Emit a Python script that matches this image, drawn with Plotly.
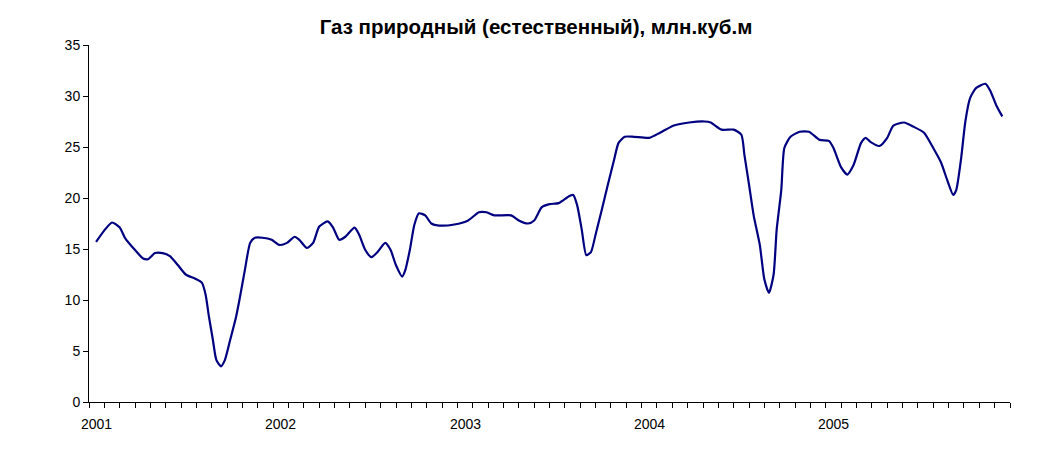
import plotly.graph_objects as go

# position in months from Jan 2001 (0 = start of Jan 2001), and value in mln cub.m
months = [0.46, 1.04, 1.5, 2.0, 2.34, 3.0, 3.5, 3.84, 4.3, 4.8, 5.27, 5.8, 6.3, 6.9, 7.35, 7.6, 7.8, 8.07, 8.3, 8.6,
          8.85, 9.2, 9.56, 9.8, 10.15, 10.5, 10.8, 11.3, 11.9, 12.4, 12.9, 13.4, 13.7, 14.2, 14.6, 15.0, 15.55, 15.9, 16.3, 16.7,
          17.3, 17.6, 18.0, 18.4, 18.8, 19.3, 19.65, 20.0, 20.4, 20.6, 20.9, 21.2, 21.5, 21.9, 22.3, 22.8, 23.8, 24.7, 25.4, 25.9,
          26.4, 27.5, 28.0, 28.6, 29.0, 29.5, 30.0, 30.6, 31.3, 31.55, 31.8, 32.1, 32.4, 32.7, 33.0, 33.4, 33.8, 34.2, 34.5, 34.9,
          35.5, 36.5, 37.2, 38.1, 39.1, 40.1, 40.5, 41.2, 42.0, 42.5, 42.7, 43.0, 43.3, 43.7, 44.0, 44.3, 44.6, 44.8, 45.1, 45.3,
          45.7, 46.3, 46.9, 47.6, 48.2, 48.5, 49.0, 49.4, 49.8, 50.3, 50.6, 50.9, 51.5, 52.0, 52.4, 53.1, 53.7, 54.4, 55.0, 55.5,
          55.9, 56.3, 56.5, 56.8, 57.1, 57.4, 57.8, 58.4, 58.75, 59.1, 59.5]
values = [15.7, 16.9, 17.6, 17.1, 16.1, 14.9, 14.1, 14.0, 14.6, 14.6, 14.3, 13.4, 12.5, 12.1, 11.7, 10.5, 8.5, 6.1, 4.1, 3.5,
          4.1, 6.1, 8.2, 10.0, 12.9, 15.6, 16.1, 16.1, 15.9, 15.4, 15.6, 16.2, 15.9, 15.1, 15.6, 17.2, 17.7, 17.1, 15.9, 16.2,
          17.1, 16.4, 14.9, 14.2, 14.7, 15.6, 14.9, 13.4, 12.3, 12.9, 14.9, 17.4, 18.5, 18.3, 17.5, 17.3, 17.4, 17.8, 18.6, 18.6,
          18.3, 18.3, 17.8, 17.5, 17.8, 19.1, 19.4, 19.5, 20.2, 20.3, 19.3, 16.9, 14.4, 14.7, 16.4, 18.8, 21.3, 23.7, 25.4, 26.0,
          26.0, 25.9, 26.4, 27.1, 27.4, 27.5, 27.4, 26.7, 26.7, 26.2, 24.2, 21.3, 18.3, 15.4, 12.0, 10.7, 12.5, 16.9, 20.8, 24.9,
          26.0, 26.5, 26.5, 25.7, 25.6, 24.9, 23.0, 22.3, 23.2, 25.4, 25.9, 25.5, 25.1, 25.9, 27.1, 27.4, 27.0, 26.4, 24.9, 23.5,
          21.8, 20.3, 20.8, 23.7, 27.6, 29.8, 30.8, 31.2, 30.4, 29.1, 28.0]
years = ["2001", "2002", "2003", "2004", "2005"]

fig = go.Figure()
fig.add_trace(go.Scatter(x=months, y=values, mode="lines",
                         line=dict(color="#000080", width=2.2, shape="spline", smoothing=0.6)))

for i, yr in enumerate(years):
    fig.add_annotation(x=i * 12 + 0.5, y=0, yref="y", text=yr, showarrow=False,
                       yshift=-22, font=dict(size=14, color="black"))

fig.update_layout(
    width=1056, height=474,
    margin=dict(l=81, r=54, t=37, b=80),
    paper_bgcolor="white", plot_bgcolor="white",
    font=dict(family="Liberation Sans, Arial", size=14, color="black"),
    title=dict(text="<b>Газ природный (естественный), млн.куб.м</b>", x=0.5, xanchor="center",
               y=0.96, yanchor="middle", font=dict(size=20.5)),
    showlegend=False,
)
fig.update_xaxes(range=[0, 60], tickvals=list(range(0, 61)), ticktext=[""] * 61,
                 ticks="outside", ticklen=5, tickcolor="black", showline=True, linecolor="black",
                 linewidth=1, showgrid=False, zeroline=False)
fig.update_yaxes(range=[0, 35], dtick=5, ticks="outside", ticklen=5, tickcolor="black",
                 showline=True, linecolor="black", linewidth=1, showgrid=False, zeroline=False)

fig.write_html("out.html")
